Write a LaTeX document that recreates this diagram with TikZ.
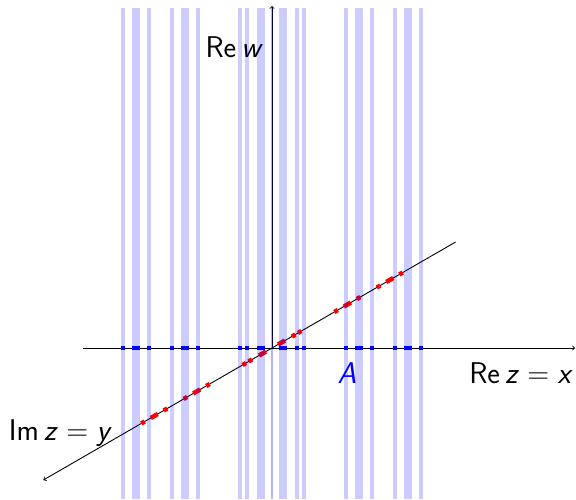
\documentclass[tikz,border=0pt]{standalone}
\usetikzlibrary{calc}
\begin{document}
\begin{tikzpicture}[x=1pt,y=-1pt,
  font=\fontsize{30}{36}\selectfont\sffamily,
  axis/.style={line width=0.9pt,black},
  stripe/.style={fill=blue,fill opacity=0.2},
  bluemark/.style={fill=blue},
  redmark/.style={draw=red,line width=4.5pt},
  lbl/.style={inner sep=0pt,anchor=base east}]
\useasboundingbox (0,0) rectangle (576,499);
\coordinate (O) at (272,348);
\coordinate (xs) at (83,348);
\coordinate (xe) at (575,348);
\coordinate (we) at (272,6);
\coordinate (yu) at ($(O)+(-30:212)$);
\coordinate (yd) at ($(O)+(150:264)$);
% axes
\draw[axis,->] (xs) -- (xe);
\draw[axis,->] (O) -- (we);
\draw[axis,->] (yu) -- (yd);
% set A on the real axis and on the imaginary axis
\foreach \a/\b in {7/15,23/27,30/34,72/76,83/91,98/102,121/125,132/140,147/151}{
  \fill[bluemark] (272+\a,346) rectangle (272+\b,350);
  \fill[bluemark] (272-\b,346) rectangle (272-\a,350);
  \draw[redmark] ($(O)+(-30:\a)$) -- ($(O)+(-30:\b)$);
  \draw[redmark] ($(O)+(150:\a)$) -- ($(O)+(150:\b)$);
}
% labels
\node[lbl] (rew) at (263,57) {Re\,\textit{w}};
\node[lbl] (rez) at (573,383) {Re\,\textit{z}\hspace{.278em}=\hspace{.278em}\textit{x}};
\node[lbl] (imz) at (112,440) {Im\,\textit{z}\hspace{.278em}=\hspace{.278em}\textit{y}};
\node[inner sep=0pt,anchor=base,text=blue] (A) at (347,383) {\textit{A}};
% stripes
\foreach \a/\b in {7/15,23/27,30/34,72/76,83/91,98/102,121/125,132/140,147/151}{
  \fill[stripe] (272+\a,8) rectangle (272+\b,499);
  \fill[stripe] (272-\b,8) rectangle (272-\a,499);
}
\draw[blue,opacity=0.3,line width=1.6pt] (272,8) -- (272,499);
\end{tikzpicture}
\end{document}
